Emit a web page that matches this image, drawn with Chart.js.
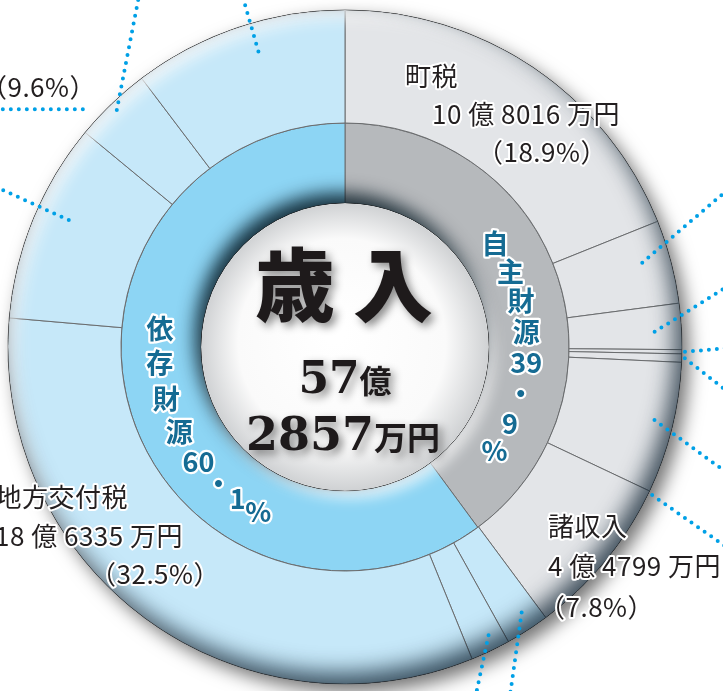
<!DOCTYPE html>
<html>
<head>
<meta charset="utf-8">
<script src="https://cdn.jsdelivr.net/npm/chart.js@4.4.0/dist/chart.umd.min.js"></script>
<style>
  html, body { margin: 0; padding: 0; background: #fff; overflow: hidden; }
  canvas { display: block; }
</style>
</head>
<body>
<canvas id="chart" width="723" height="691"></canvas>
<script>
  /*
    ==================================================
    ====================== DATA ======================
    ==================================================
  */

  // outer ring, clockwise from 12 o'clock (percent of total revenue)
  const outerKeys = ['町税', '自主b', '自主c', '自主d', '自主e', '自主f', '諸収入',
                     '依存a', '依存b', '地方交付税', '依存c', '依存d', '依存e'];
  const outerPercents = [18.9, 4.0, 2.2, 0.2, 0.4, 6.3, 7.8,
                         2.1, 1.9, 32.5, 9.6, 3.7, 10.3];
  const outerGroup = [0, 0, 0, 0, 0, 0, 0, 1, 1, 1, 1, 1, 1];

  // inner ring
  const innerNames = ['自主財源', '依存財源'];
  const innerPercents = [39.9, 60.1];

  // callouts
  const calloutNames = ['町税', '諸収入', '地方交付税'];
  const calloutAmounts = ['10 億 8016 万円', '4 億 4799 万円', '18 億 6335 万円'];
  const calloutPercents = [18.9, 7.8, 32.5];
  const cutPercent = 9.6;

  const totalOku = '57';
  const totalMan = '2857';

  /*
    ==================================================
    ===================== STYLE ======================
    ==================================================
  */

  const groupColors = ['#e3e5e8', '#c6e8f9'];
  const innerColors = ['#b6b9bc', '#8dd5f4'];
  const ringTextColor = '#156b93';
  const leaderColor = '#00a0e6';
  const cjk = '"Noto Sans CJK JP"';

  // callout positions (name / amount / percent): x, y, align
  const calloutLayout = [
    [[405, 76, 'left'], [432, 114, 'left'], [477, 152, 'left']],
    [[548, 526, 'left'], [548, 566, 'left'], [539, 607, 'left']],
    [[128, 497, 'right'], [183, 536, 'right'], [220, 574, 'right']]
  ];

  // ring text: angle of each glyph (deg from top, clockwise), radius
  const ringTextAngles = [
    [55.5, 65.4, 75.3, 85.2, 95.1, 105, 114.9, 124.8],
    [275.7, 265, 254, 243, 232, 222.8, 215.2, 207.8]
  ];
  const ringTextRadius = [182, 186];

  // leader lines: slice, position in slice, radius offset from rim, direction (deg), length
  const leaders = [
    { slice: 1, frac: 0.42, dr: -28, dir: -40.5, len: 130 },
    { slice: 2, frac: 0.59, dr: -27, dir: -32, len: 90 },
    { slice: 3, frac: 0.5, dr: 3, dir: -5, len: 50 },
    { slice: 4, frac: 0.5, dr: 3, dir: 38, len: 60 },
    { slice: 5, frac: 0.47, dr: -19, dir: 36, len: 110 },
    { slice: 6, frac: 0.015, dr: 4, dir: 35, len: 110 },
    { slice: 7, frac: 0.39, dr: -18, dir: 98, len: 90 },
    { slice: 8, frac: 0.37, dr: -15, dir: 102, len: 70 },
    { slice: 10, frac: 0.57, dr: -33, dir: 204.5, len: 90 },
    { slice: 11, frac: 0.2, dr: 17, dir: 180, len: 100 },
    { slice: 11, frac: 0.49, dr: -8, dir: -79, len: 120 },
    { slice: 12, frac: 0.56, dr: -29, dir: -106, len: 60 }
  ];

  /*
    ==================================================
    ===================== HELPERS ====================
    ==================================================
  */

  const rad = deg => (deg - 90) * Math.PI / 180;

  function haloText(ctx, text, x, y, font, color, halo, align) {
    ctx.font = font;
    ctx.textAlign = align || 'left';
    ctx.textBaseline = 'middle';
    ctx.lineJoin = 'round';
    ctx.lineWidth = halo;
    ctx.strokeStyle = '#fff';
    ctx.strokeText(text, x, y);
    ctx.fillStyle = color;
    ctx.fillText(text, x, y);
  }

  // shadow cast into the ring r0..r1, from outside (useOuter) or from the hole
  function innerShadow(ctx, cx, cy, r0, r1, useOuter, color, blur, ox, oy) {
    ctx.save();
    ctx.beginPath();
    ctx.arc(cx, cy, r1, 0, Math.PI * 2);
    ctx.arc(cx, cy, r0, 0, Math.PI * 2, true);
    ctx.clip();
    ctx.beginPath();
    if (useOuter) {
      ctx.rect(-3000, -3000, 7000, 7000);
      ctx.arc(cx, cy, r1, 0, Math.PI * 2, true);
    } else {
      ctx.arc(cx, cy, r0, 0, Math.PI * 2);
    }
    ctx.shadowColor = color;
    ctx.shadowBlur = blur;
    ctx.shadowOffsetX = ox;
    ctx.shadowOffsetY = oy;
    ctx.fillStyle = '#000';
    ctx.fill();
    ctx.restore();
  }

  function drawRuns(ctx, runs, cx, y) {
    let total = 0;
    runs.forEach(r => { ctx.font = r[1]; total += ctx.measureText(r[0]).width; });
    let x = cx - total / 2;
    ctx.textAlign = 'left';
    ctx.textBaseline = 'alphabetic';
    runs.forEach(r => {
      ctx.font = r[1];
      ctx.fillText(r[0], x, y);
      x += ctx.measureText(r[0]).width;
    });
  }

  /*
    ==================================================
    ===================== PLUGIN =====================
    ==================================================
  */

  const decor = {
    id: 'decor',
    beforeDatasetsDraw(chart) {
      let ctx = chart.ctx;
      let o = chart.getDatasetMeta(0).data[0];
      ctx.save();
      ctx.beginPath();
      ctx.arc(o.x, o.y, o.outerRadius, 0, Math.PI * 2);
      ctx.fillStyle = '#fff';
      ctx.shadowColor = 'rgba(0,0,0,0.55)';
      ctx.shadowBlur = 18;
      ctx.shadowOffsetX = 7;
      ctx.shadowOffsetY = 8;
      ctx.fill();
      ctx.restore();
    },
    afterDatasetsDraw(chart) {
      let ctx = chart.ctx;
      let outerMeta = chart.getDatasetMeta(0);
      let o = outerMeta.data[0];
      let inn = chart.getDatasetMeta(1).data[0];
      let cx = o.x, cy = o.y;

      // 3d shading
      innerShadow(ctx, cx, cy, o.innerRadius, o.outerRadius, true, 'rgba(255,255,255,0.9)', 16, 7, 7);
      innerShadow(ctx, cx, cy, o.innerRadius, o.outerRadius, true, 'rgba(10,30,45,0.75)', 22, -7, -11);
      innerShadow(ctx, cx, cy, inn.innerRadius, inn.outerRadius, false, 'rgba(255,255,255,0.8)', 14, 5, 7);
      innerShadow(ctx, cx, cy, inn.innerRadius, inn.outerRadius, false, 'rgba(0,20,30,0.85)', 18, -6, -10);

      // hole
      ctx.save();
      let g = ctx.createRadialGradient(cx - 10, cy - 15, 10, cx, cy, inn.innerRadius);
      g.addColorStop(0, '#ffffff');
      g.addColorStop(0.7, '#fafafa');
      g.addColorStop(1, '#cfd1d3');
      ctx.beginPath();
      ctx.arc(cx, cy, inn.innerRadius - 0.5, 0, Math.PI * 2);
      ctx.fillStyle = g;
      ctx.fill();
      ctx.restore();

      // leader lines
      ctx.save();
      ctx.strokeStyle = leaderColor;
      ctx.lineWidth = 4;
      ctx.lineCap = 'round';
      ctx.setLineDash([0, 8]);
      leaders.forEach(l => {
        let a = outerMeta.data[l.slice];
        let ang = a.startAngle + l.frac * (a.endAngle - a.startAngle);
        let r = a.outerRadius + l.dr;
        let x0 = cx + r * Math.cos(ang), y0 = cy + r * Math.sin(ang);
        let d = l.dir * Math.PI / 180;
        ctx.beginPath();
        ctx.moveTo(x0, y0);
        ctx.lineTo(x0 + l.len * Math.cos(d), y0 + l.len * Math.sin(d));
        ctx.stroke();
      });
      ctx.restore();
    },
    afterDraw(chart) {
      let ctx = chart.ctx;
      let inn = chart.getDatasetMeta(1).data[0];
      let cx = inn.x, cy = inn.y;

      // ring texts
      ctx.save();
      innerNames.forEach((name, i) => {
        let [whole, dec] = innerPercents[i].toFixed(1).split('.');
        let glyphs = [...name, whole, '・', dec, '%'];
        glyphs.forEach((t, k) => {
          let a = rad(ringTextAngles[i][k]);
          let r = ringTextRadius[i];
          haloText(ctx, t, cx + r * Math.cos(a), cy + r * Math.sin(a),
            `bold 27px ${cjk}`, ringTextColor, 4.5, 'center');
        });
      });
      ctx.restore();

      // callouts
      ctx.save();
      ctx.letterSpacing = '0.5px';
      calloutNames.forEach((name, i) => {
        let texts = [name, calloutAmounts[i], `（${calloutPercents[i]}%）`];
        texts.forEach((t, k) => {
          let [x, y, align] = calloutLayout[i][k];
          haloText(ctx, t, x, y, `26px ${cjk}`, '#231f20', 4, align);
        });
      });
      haloText(ctx, `（${cutPercent}%）`, 96, 87, `26px ${cjk}`, '#231f20', 4, 'right');
      ctx.restore();

      // centre title
      ctx.save();
      ctx.fillStyle = '#1e1a1b';
      ctx.shadowColor = 'rgba(0,0,0,0.45)';
      ctx.shadowBlur = 8;
      ctx.shadowOffsetX = 4;
      ctx.shadowOffsetY = 4;
      ctx.font = `900 80px ${cjk}`;
      ctx.textAlign = 'center';
      ctx.textBaseline = 'middle';
      ctx.fillText('歳', cx - 50, cy - 62);
      ctx.fillText('入', cx + 48, cy - 62);
      let serif = '"DejaVu Serif"';
      drawRuns(ctx, [[totalOku, `bold 44px ${serif}`], ['億', `bold 32px ${cjk}`]], cx, cy + 46);
      drawRuns(ctx, [[totalMan, `bold 46px ${serif}`], ['万円', `bold 33px ${cjk}`]], cx - 2, cy + 103);
      ctx.restore();
    }
  };

  /*
    ==================================================
    ====================== CHART =====================
    ==================================================
  */

  const outerR = 337;
  const holeR = 144;

  new Chart(document.getElementById('chart').getContext('2d'), {
    type: 'doughnut',
    data: {
      labels: outerKeys,
      datasets: [{
        data: outerPercents,
        backgroundColor: outerGroup.map(g => groupColors[g]),
        borderColor: '#6a6c6e',
        borderWidth: 1,
        weight: 113
      }, {
        data: innerPercents,
        backgroundColor: innerColors,
        borderColor: '#6a6c6e',
        borderWidth: 1,
        weight: 80
      }]
    },
    options: {
      responsive: false,
      animation: false,
      radius: outerR,
      cutout: (holeR / outerR * 100) + '%',
      layout: { padding: { left: 0, right: 33, top: 3, bottom: 0 } },
      plugins: {
        legend: { display: false },
        tooltip: { enabled: false }
      },
      hoverOffset: 0
    },
    plugins: [decor]
  });
</script>
</body>
</html>
